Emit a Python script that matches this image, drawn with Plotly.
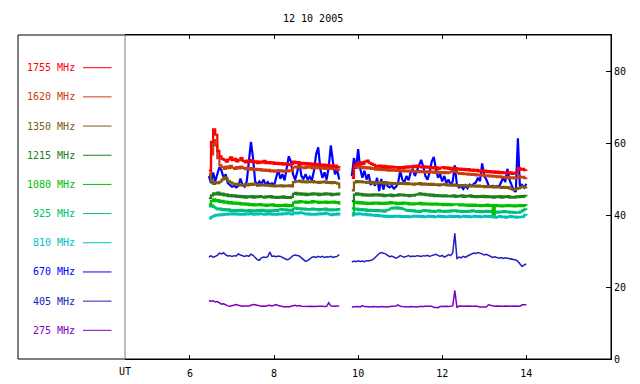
import plotly.graph_objects as go

# ---------------- data ----------------
TITLE = "12 10 2005"
X_TICKS = [6, 8, 10, 12, 14]
X_TICK_TEXT = ["6", "8", "10", "12", "14"]
Y_TICKS = [0, 20, 40, 60, 80]
Y_TICK_TEXT = ["0", "20", "40", "60", "80"]

# UT hours, first and second observing block
T1 = [6.45, 6.5, 6.55, 6.6, 6.65, 6.7, 6.75, 6.8, 6.85, 6.9,
      6.95, 7.0, 7.05, 7.1, 7.15, 7.2, 7.25, 7.3, 7.35, 7.4,
      7.45, 7.5, 7.55, 7.6, 7.65, 7.7, 7.75, 7.8, 7.85, 7.9,
      7.95, 8.0, 8.05, 8.1, 8.15, 8.2, 8.25, 8.3, 8.35, 8.4,
      8.45, 8.5, 8.55, 8.6, 8.65, 8.7, 8.75, 8.8, 8.85, 8.9,
      8.95, 9.0, 9.05, 9.1, 9.15, 9.2, 9.25, 9.3, 9.35, 9.4,
      9.45, 9.5, 9.55]
T2 = [9.85, 9.9, 9.95, 10.0, 10.05, 10.1, 10.15, 10.2, 10.25, 10.3,
      10.35, 10.4, 10.45, 10.5, 10.55, 10.6, 10.65, 10.7, 10.75, 10.8,
      10.85, 10.9, 10.95, 11.0, 11.05, 11.1, 11.15, 11.2, 11.25, 11.3,
      11.35, 11.4, 11.45, 11.5, 11.55, 11.6, 11.65, 11.7, 11.75, 11.8,
      11.85, 11.9, 11.95, 12.0, 12.05, 12.1, 12.15, 12.2, 12.25, 12.3,
      12.35, 12.4, 12.45, 12.5, 12.55, 12.6, 12.65, 12.7, 12.75, 12.8,
      12.85, 12.9, 12.95, 13.0, 13.05, 13.1, 13.15, 13.2, 13.25, 13.3,
      13.35, 13.4, 13.45, 13.5, 13.55, 13.6, 13.65, 13.7, 13.75, 13.8,
      13.85, 13.9, 13.95, 14.0]

F1755_A = [52.5, 60.5, 64.0, 62.5, 58.0, 56.5, 55.8, 55.5, 55.0, 55.6,
           56.2, 55.4, 55.8, 55.1, 55.5, 56.0, 55.2, 54.8, 55.3, 54.9,
           55.4, 54.8, 55.1, 54.6, 55.0, 54.7, 55.2, 54.6, 54.9, 54.5,
           54.8, 54.4, 54.7, 54.3, 54.6, 54.2, 54.5, 54.3, 54.0, 54.4,
           55.0, 54.6, 54.9, 54.4, 54.7, 54.3, 54.6, 54.2, 54.5, 54.1,
           54.4, 54.0, 54.3, 53.9, 54.2, 53.8, 54.1, 53.7, 54.0, 53.6,
           53.9, 53.5, 53.8]
F1755_B = [50.5, 54.0, 54.6, 54.2, 54.8, 54.4, 55.0, 55.3, 54.7, 54.4,
           54.1, 53.8, 53.6, 53.9, 53.5, 53.8, 53.4, 53.7, 53.3, 53.6,
           53.3, 53.5, 53.2, 53.5, 53.2, 53.6, 53.3, 53.7, 53.4, 53.8,
           53.5, 53.9, 53.6, 53.4, 53.7, 53.3, 53.6, 53.2, 53.5, 53.1,
           53.4, 53.0, 53.3, 53.5, 53.1, 53.4, 53.0, 53.3, 52.9, 53.2,
           52.8, 53.1, 52.7, 53.0, 52.6, 52.9, 52.5, 52.8, 52.4, 52.7,
           52.3, 52.6, 52.2, 52.5, 52.1, 52.4, 52.0, 52.3, 51.9, 52.2,
           51.8, 52.1, 51.8, 52.0, 51.7, 52.0, 51.6, 51.9, 52.0, 53.2,
           52.8, 53.0, 52.6, 52.5]

F1620_A = [51.5, 57.0, 61.0, 59.5, 56.0, 54.0, 53.5, 53.0, 53.6, 53.2,
           53.8, 53.3, 53.0, 53.5, 53.1, 53.6, 53.2, 52.9, 53.3, 52.8,
           53.2, 52.7, 53.0, 52.6, 52.9, 52.5, 52.8, 52.4, 52.7, 52.3,
           52.6, 52.2, 52.5, 52.3, 52.6, 52.2, 52.5, 52.3, 52.6, 52.4,
           53.4, 53.6, 53.3, 53.7, 53.4, 53.2, 53.6, 53.3, 53.5, 53.1,
           53.4, 53.2, 53.5, 53.1, 53.4, 53.0, 53.3, 53.0, 53.2, 52.9,
           53.2, 52.8, 52.5]
F1620_B = [51.0, 53.4, 53.8, 53.3, 53.6, 53.2, 53.5, 53.1, 53.4, 53.0,
           53.2, 52.8, 53.1, 52.7, 53.0, 52.6, 52.9, 52.5, 52.8, 52.5,
           52.7, 52.4, 52.7, 52.3, 52.6, 52.3, 52.5, 52.2, 52.5, 52.2,
           52.4, 52.1, 52.4, 52.1, 52.3, 52.0, 52.3, 52.0, 52.2, 51.9,
           52.2, 51.9, 52.1, 51.8, 52.1, 51.8, 52.0, 52.3, 52.6, 52.2,
           51.9, 51.6, 51.8, 51.5, 51.7, 51.4, 51.6, 51.3, 51.5, 51.2,
           51.4, 51.1, 51.3, 51.0, 51.2, 50.9, 51.1, 50.8, 51.0, 50.7,
           50.9, 50.6, 50.8, 50.5, 50.7, 50.4, 50.6, 50.3, 50.5, 51.0,
           50.6, 50.8, 50.4, 50.6]

F1350_A = [51.0, 49.5, 48.8, 49.2, 49.0, 49.4, 50.0, 50.6, 50.2, 49.6,
           49.2, 48.9, 48.6, 48.8, 48.4, 48.6, 48.3, 48.7, 48.4, 48.8,
           48.5, 48.9, 48.6, 48.3, 48.7, 48.4, 48.6, 48.3, 48.5, 48.2,
           48.4, 48.1, 48.3, 48.2, 48.4, 48.1, 48.3, 48.2, 48.4, 48.1,
           49.3, 49.6, 49.4, 49.7, 49.3, 49.5, 49.2, 49.5, 49.3, 49.6,
           49.2, 49.4, 49.1, 49.4, 49.2, 49.5, 49.1, 49.3, 49.0, 49.3,
           49.1, 48.9, 47.5]
F1350_B = [47.0, 49.2, 49.6, 49.3, 49.5, 49.2, 49.4, 49.1, 49.4, 49.0,
           49.3, 48.9, 49.2, 49.0, 49.3, 48.9, 49.2, 48.8, 49.1, 48.8,
           49.0, 48.7, 49.0, 48.8, 49.1, 48.7, 49.0, 48.7, 48.9, 48.6,
           48.9, 48.7, 49.0, 48.6, 48.9, 48.6, 48.8, 48.5, 48.8, 48.5,
           48.7, 48.4, 48.7, 48.5, 48.8, 48.4, 48.6, 48.3, 48.6, 48.3,
           48.5, 48.2, 48.5, 48.2, 48.4, 48.1, 48.4, 48.1, 48.3, 48.0,
           48.3, 48.0, 48.2, 47.9, 48.2, 47.9, 48.1, 47.8, 48.1, 47.8,
           48.0, 47.7, 48.0, 47.7, 47.9, 47.5, 47.3, 47.1, 47.4, 47.6,
           47.9, 48.1, 47.8, 48.0]

F1215_A = [44.8, 45.6, 46.2, 45.9, 46.4, 45.8, 46.1, 45.6, 45.9, 45.4,
           45.7, 45.3, 45.6, 45.2, 45.5, 45.1, 45.4, 45.0, 45.3, 45.1,
           45.4, 45.0, 45.3, 45.1, 45.4, 45.2, 45.0, 45.3, 45.1, 45.4,
           45.0, 45.2, 44.9, 45.2, 45.0, 45.3, 44.9, 45.1, 44.9, 45.2,
           46.0, 46.3, 45.9, 46.2, 45.8, 46.1, 45.7, 46.0, 45.8, 46.2,
           45.9, 46.1, 45.7, 46.0, 45.8, 46.2, 45.9, 46.1, 45.7, 46.0,
           45.8, 46.1, 45.6]
F1215_B = [44.0, 45.8, 46.2, 45.8, 46.0, 45.6, 45.9, 45.5, 45.8, 45.5,
           45.9, 45.6, 45.9, 45.5, 45.8, 45.4, 45.7, 45.5, 45.8, 45.4,
           45.7, 45.5, 45.9, 45.6, 45.8, 45.5, 45.7, 45.4, 45.7, 45.5,
           45.8, 45.9, 46.2, 45.8, 46.0, 45.7, 45.9, 45.5, 45.8, 45.4,
           45.7, 45.4, 45.6, 45.3, 45.6, 45.3, 45.5, 45.3, 45.6, 45.2,
           45.5, 45.3, 45.6, 45.2, 45.5, 45.3, 45.6, 45.2, 45.4, 45.1,
           45.4, 45.2, 45.5, 45.1, 45.4, 45.1, 45.3, 45.0, 45.3, 45.1,
           45.4, 45.0, 45.3, 45.1, 45.4, 45.0, 45.2, 45.0, 45.3, 45.1,
           45.4, 45.2, 45.5, 45.3]

F1080_A = [43.0, 44.0, 44.5, 44.0, 44.3, 43.8, 44.1, 43.6, 43.9, 43.4,
           43.7, 43.3, 43.6, 43.2, 43.5, 43.1, 43.4, 43.0, 43.3, 42.9,
           43.2, 42.8, 43.1, 42.9, 43.2, 42.8, 43.0, 42.7, 43.0, 42.8,
           43.1, 42.7, 42.9, 42.6, 42.9, 42.7, 43.0, 42.6, 42.9, 42.7,
           43.6, 43.9, 43.6, 44.0, 43.7, 43.9, 43.5, 43.8, 43.6, 44.0,
           43.7, 43.9, 43.5, 43.8, 43.6, 43.9, 43.5, 43.8, 43.6, 43.9,
           43.5, 43.7, 43.0]
F1080_B = [42.0, 43.5, 43.8, 43.4, 43.7, 43.3, 43.6, 43.2, 43.5, 43.2,
           43.6, 43.3, 43.6, 43.2, 43.5, 43.2, 43.6, 43.3, 43.7, 43.4,
           43.6, 43.2, 43.5, 43.2, 43.6, 43.3, 43.5, 43.1, 43.4, 43.1,
           43.4, 43.2, 43.5, 43.1, 43.4, 43.1, 43.3, 43.0, 43.3, 43.0,
           43.3, 43.0, 43.2, 42.9, 43.2, 42.9, 43.2, 42.9, 43.1, 43.1,
           43.1, 42.8, 43.1, 42.8, 43.0, 42.7, 43.0, 42.7, 43.0, 42.7,
           42.9, 42.6, 42.9, 42.7, 43.0, 42.7, 42.9, 40.2, 42.9, 42.6,
           42.8, 42.5, 42.8, 42.6, 42.9, 42.6, 42.8, 42.5, 42.8, 42.6,
           42.9, 42.6, 42.9, 42.7]

F925_A = [42.5, 42.8, 42.4, 42.0, 41.7, 41.9, 41.5, 41.8, 41.4, 41.7,
          41.3, 41.5, 41.2, 41.5, 41.3, 41.6, 41.2, 41.4, 41.2, 41.5,
          41.1, 41.4, 41.2, 41.5, 41.3, 41.6, 41.2, 41.4, 41.1, 41.4,
          41.2, 41.5, 41.3, 41.6, 41.8, 41.5, 41.7, 41.4, 41.6, 41.3,
          41.9, 42.1, 41.8, 42.0, 41.7, 41.9, 41.6, 41.8, 41.6, 41.9,
          41.6, 41.8, 41.5, 41.8, 41.6, 41.9, 41.5, 41.7, 41.4, 41.7,
          41.5, 41.8, 41.3]
F925_B = [40.5, 41.6, 41.9, 41.5, 41.8, 41.4, 41.7, 41.3, 41.6, 41.3,
          41.5, 41.2, 41.5, 41.2, 41.4, 41.1, 41.4, 41.6, 41.9, 42.2,
          42.0, 42.3, 41.9, 42.1, 41.8, 41.6, 41.3, 41.5, 41.2, 41.4,
          41.1, 41.3, 41.0, 41.3, 41.5, 41.2, 41.4, 41.1, 41.3, 41.0,
          41.2, 41.4, 41.1, 41.3, 41.0, 41.3, 41.1, 41.4, 41.2, 41.4,
          41.1, 41.3, 41.0, 41.2, 41.0, 41.3, 41.1, 41.4, 41.2, 41.0,
          41.2, 40.9, 41.2, 41.0, 41.3, 41.0, 41.2, 40.9, 41.1, 40.8,
          41.1, 40.9, 41.2, 40.9, 41.1, 40.8, 41.0, 40.7, 40.9, 40.8,
          41.1, 41.4, 41.7, 41.5]

F810_A = [39.2, 39.6, 39.9, 40.2, 40.0, 40.3, 40.1, 40.4, 40.2, 40.5,
          40.3, 40.6, 40.3, 40.5, 40.2, 40.4, 40.2, 40.5, 40.3, 40.6,
          40.4, 40.2, 40.5, 40.3, 40.6, 40.4, 40.2, 40.5, 40.3, 40.5,
          40.2, 40.4, 40.2, 40.5, 40.3, 40.6, 40.4, 40.7, 40.5, 40.3,
          40.6, 40.8, 40.6, 40.9, 40.7, 40.5, 40.3, 40.5, 40.2, 40.4,
          40.2, 40.5, 40.3, 40.6, 40.4, 40.7, 40.5, 40.3, 40.1, 40.4,
          40.2, 40.5, 40.0]
F810_B = [40.0, 40.5, 40.3, 40.6, 40.4, 40.2, 40.4, 40.1, 40.3, 40.0,
          40.2, 39.9, 40.1, 39.8, 40.0, 39.7, 39.9, 39.6, 39.8, 39.6,
          39.9, 39.7, 39.9, 39.6, 39.8, 39.6, 39.8, 39.5, 39.7, 39.9,
          39.7, 39.9, 39.6, 39.8, 39.5, 39.7, 39.9, 39.6, 39.8, 39.5,
          39.7, 39.9, 39.6, 39.8, 39.5, 39.7, 39.9, 39.6, 39.8, 39.6,
          39.8, 39.5, 39.7, 39.9, 39.6, 39.8, 39.5, 39.7, 39.9, 39.6,
          39.8, 39.5, 39.7, 39.9, 39.6, 39.8, 39.5, 39.7, 39.4, 39.6,
          39.8, 39.5, 39.7, 39.4, 39.6, 39.8, 39.5, 39.7, 39.4, 39.6,
          39.5, 39.7, 40.2, 40.5]

F670_A = [51.0, 49.0, 52.0, 49.5, 51.5, 53.5, 52.5, 50.5, 51.5, 49.0,
          48.5, 48.0, 48.3, 47.8, 48.2, 50.3, 48.5, 48.0, 49.5, 55.0,
          60.5, 56.0, 49.5, 48.5, 49.5, 48.8, 50.0, 48.6, 49.3, 48.5,
          49.0, 48.3, 50.5, 52.8, 50.2, 51.5, 49.8, 53.0, 56.5, 55.0,
          51.5, 50.0, 52.0, 55.0, 51.0, 50.2, 51.5, 50.0, 50.8, 49.8,
          52.5, 57.0, 59.0, 53.0, 50.5, 52.0, 50.0, 53.5, 59.5, 55.0,
          51.5, 52.8, 50.0]
F670_B = [51.0, 56.0, 53.0, 58.5, 53.0, 50.5, 52.5, 50.0, 51.5, 48.5,
          49.5, 48.3, 50.5, 46.8, 50.2, 47.2, 49.5, 48.2, 47.8, 48.3,
          47.5, 48.0, 49.0, 52.5, 50.0, 49.3, 51.0, 49.8, 52.0, 53.0,
          51.0, 52.5, 54.5, 55.5, 53.5, 51.0, 50.0, 52.0, 55.0, 56.3,
          53.0, 50.5, 51.5, 49.5, 51.0, 49.0, 50.0, 48.5, 49.5, 54.0,
          48.5, 47.8, 48.2, 47.4, 48.4, 47.6, 48.6, 48.2, 48.8, 49.2,
          50.5, 49.6, 54.5, 51.0, 50.0, 48.5, 48.0, 48.3, 47.9, 48.2,
          48.0, 49.5, 50.5, 49.3, 53.0, 50.0, 48.5, 47.0, 46.6, 61.5,
          47.5, 48.5, 47.8, 48.8]

F405_A = [28.4, 28.8, 28.3, 28.6, 28.9, 29.5, 29.3, 29.6, 29.0, 28.7,
          28.8, 28.6, 28.8, 28.7, 29.3, 29.0, 28.7, 28.6, 28.8, 28.6,
          29.2, 28.9, 28.3, 27.7, 27.5, 28.2, 28.4, 28.3, 28.5, 29.8,
          28.6, 28.7, 28.5, 28.7, 28.6, 28.4, 28.0, 27.7, 27.8, 28.3,
          28.8, 29.0, 28.9, 28.7, 28.2, 27.6, 27.2, 27.4, 28.0, 28.4,
          28.5, 28.3, 28.6, 28.4, 28.6, 28.3, 28.5, 28.4, 28.6, 28.3,
          28.5, 28.6, 29.1]
F405_B = [27.0, 27.3, 27.1, 27.4, 27.2, 27.3, 27.1, 27.4, 27.3, 27.5,
          27.7, 28.2, 28.8, 29.4, 29.7, 29.6, 29.3, 28.9, 28.5, 28.7,
          28.3, 28.1, 28.4, 28.8, 28.6, 28.4, 28.6, 28.8, 28.5, 28.7,
          28.6, 28.8, 28.7, 28.6, 28.8, 28.7, 28.9, 28.6, 28.8, 29.0,
          29.2, 28.9, 28.6, 28.9, 28.4, 28.7, 29.1, 28.8, 29.6, 35.0,
          28.0, 28.4, 28.2, 28.6, 28.3, 28.7, 29.0, 29.3, 29.5, 29.4,
          29.7, 29.5, 29.3, 29.0, 29.2, 28.9, 28.6, 28.3, 28.5, 28.2,
          28.1, 28.3, 28.0, 28.2, 28.1, 27.9, 28.0, 27.8, 27.6, 27.2,
          26.6, 25.8, 26.2, 26.5]

F275_A = [16.3, 16.1, 16.2, 15.9, 16.0, 15.6, 15.3, 15.4, 15.0, 14.8,
          14.7, 14.8, 15.1, 15.2, 15.0, 14.8, 14.7, 14.8, 14.7, 14.8,
          15.0, 15.2, 15.1, 14.9, 14.8, 14.7, 14.8, 14.7, 14.9, 15.0,
          14.8, 15.1, 15.2, 14.9, 14.7, 14.6, 14.5, 14.6, 14.5, 14.7,
          14.9, 15.0, 14.8, 14.9, 14.7, 14.6, 14.7, 14.6, 14.7, 14.6,
          14.7, 14.6, 14.7, 14.8, 14.7, 14.6, 14.7, 15.7, 14.8, 14.7,
          14.8, 14.7, 14.8]
F275_B = [14.5, 14.6, 14.5, 14.6, 14.5, 14.9, 14.6, 14.5, 14.6, 14.5,
          14.6, 14.5, 14.6, 14.5, 14.6, 14.5, 14.6, 14.5, 14.6, 14.7,
          14.6, 14.8, 15.1, 14.7, 14.6, 14.5, 14.6, 14.5, 14.6, 14.5,
          14.6, 14.5, 14.6, 14.5, 14.6, 14.7, 14.7, 14.6, 14.7, 14.4,
          14.3, 14.3, 14.6, 14.7, 14.6, 14.7, 14.6, 14.7, 14.8, 19.1,
          14.3, 14.8, 14.7, 14.8, 14.7, 14.8, 14.7, 14.8, 14.7, 14.8,
          14.6, 14.5, 14.5, 14.6, 14.5, 15.1, 14.9, 14.8, 14.7, 14.8,
          14.7, 14.8, 14.7, 14.8, 14.7, 14.8, 14.7, 14.8, 14.7, 14.8,
          14.7, 15.1, 15.2, 15.1]

LABELS = ["1755 MHz", "1620 MHz", "1350 MHz", "1215 MHz", "1080 MHz",
          "925 MHz", "810 MHz", "670 MHz", "405 MHz", "275 MHz"]
COLORS = ["#ff0000", "#c84010", "#805a10", "#208020", "#00c000",
          "#00c070", "#00c0c0", "#0000ff", "#2020c0", "#8000c0"]
SERIES = [(F1755_A, F1755_B), (F1620_A, F1620_B), (F1350_A, F1350_B),
          (F1215_A, F1215_B), (F1080_A, F1080_B), (F925_A, F925_B),
          (F810_A, F810_B), (F670_A, F670_B), (F405_A, F405_B),
          (F275_A, F275_B)]

for a, b in SERIES:
    assert len(a) == len(T1) and len(b) == len(T2), (len(a), len(b))

# ---------------- figure ----------------
W, H = 640, 384
L, R, T, B = 125, 29, 35, 25
PW, PH = W - L - R, H - T - B


def px(x):
    return (x - L) / PW


def py(y):
    return (H - B - y) / PH


FONT = "DejaVu Sans Mono"
fig = go.Figure()

draw_order = [7, 9, 8, 6, 5, 4, 3, 2, 1, 0]
for k in draw_order:
    a, b = SERIES[k]
    width = 1.5 if k >= 8 else 2.2
    shape = "linear" if k in (7, 8, 9) else "hv"
    fig.add_trace(go.Scatter(
        x=T1 + [None] + T2, y=a + [None] + b, mode="lines",
        line=dict(color=COLORS[k], width=width, shape=shape),
        connectgaps=False, showlegend=False, hoverinfo="skip"))

shapes = [
    dict(type="rect", xref="paper", yref="paper", x0=px(18), x1=1, y0=0, y1=1,
         line=dict(color="black", width=1), layer="below"),
    dict(type="line", xref="paper", yref="paper", x0=0, x1=0, y0=0, y1=1,
         line=dict(color="#808080", width=1)),
]
annotations = [
    dict(text=TITLE, xref="paper", yref="paper", x=px(313), y=py(18.5),
         xanchor="center", yanchor="middle", showarrow=False,
         font=dict(family=FONT, size=10, color="black")),
    dict(text="UT", xref="paper", yref="paper", x=px(125), y=py(371),
         xanchor="center", yanchor="middle", showarrow=False,
         font=dict(family=FONT, size=10, color="black")),
]
for i, (lab, col) in enumerate(zip(LABELS, COLORS)):
    yy = 67.7 + 29.18 * i
    annotations.append(dict(text=lab, xref="paper", yref="paper", x=px(77), y=py(yy),
                            xanchor="right", yanchor="middle", showarrow=False,
                            font=dict(family=FONT, size=10, color=col)))
    shapes.append(dict(type="line", xref="paper", yref="paper", x0=px(83), x1=px(111.5),
                       y0=py(yy), y1=py(yy), line=dict(color=col, width=1)))

fig.update_layout(
    width=W, height=H, autosize=False,
    margin=dict(l=L, r=R, t=T, b=B, pad=0, autoexpand=False),
    paper_bgcolor="white", plot_bgcolor="white",
    font=dict(family=FONT, size=10, color="black"),
    showlegend=False, shapes=shapes, annotations=annotations,
)
fig.update_xaxes(range=[4.454, 16.015], tickmode="array", tickvals=X_TICKS,
                 ticktext=X_TICK_TEXT, ticks="inside", ticklen=4, tickcolor="black",
                 showline=True, linecolor="black", linewidth=1, mirror="ticks",
                 showgrid=False, zeroline=False, fixedrange=True,
                 ticklabelstandoff=5, automargin=False)
fig.update_yaxes(range=[0, 90.3], side="right", tickmode="array", tickvals=Y_TICKS,
                 ticktext=Y_TICK_TEXT, ticks="inside", ticklen=5, tickcolor="black",
                 showline=True, linecolor="black", linewidth=1,
                 showgrid=False, zeroline=False, fixedrange=True, automargin=False)

fig.write_html("out.html", config={"displayModeBar": False},
               post_script="document.body.style.margin='0px';document.body.style.overflow='hidden';")
